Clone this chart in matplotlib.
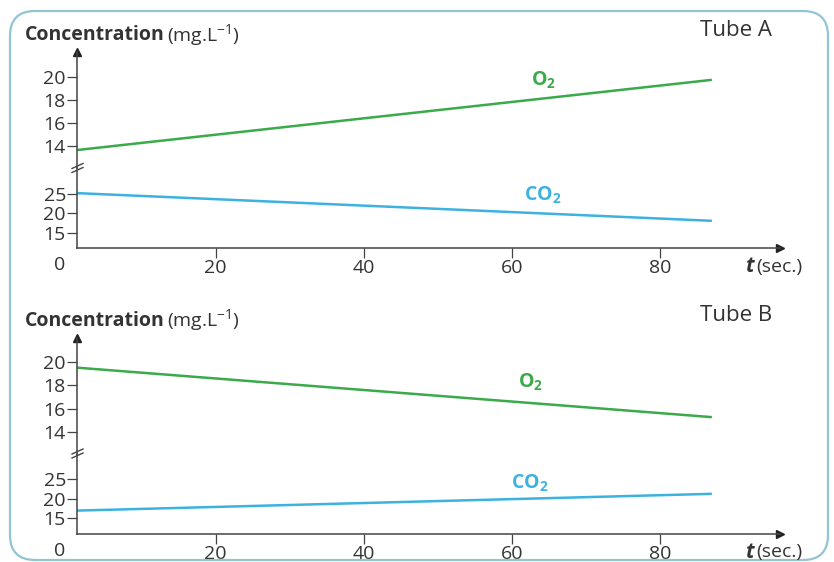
import matplotlib
matplotlib.use("Agg")
import matplotlib.pyplot as plt
from matplotlib.patches import FancyBboxPatch
from matplotlib.lines import Line2D

plt.rcParams['font.family'] = ['Open Sans', 'DejaVu Sans']

# data
t = [1.3, 87.0]
o2_a = [13.65, 19.75]
co2_a = [25.1, 18.0]
o2_b = [19.55, 15.25]
co2_b = [16.9, 21.2]
xticks = [20, 40, 60, 80]
o2_ticks = [14, 16, 18, 20]
co2_ticks = [15, 20, 25]

W, H = 834, 562
TXT = '#333333'
AX = '#444444'
GREEN = '#3aaa4a'
BLUE = '#3cb2df'

fig = plt.figure(figsize=(W / 100, H / 100), dpi=100)


def box(l, r, top, bot):
    return [l / W, 1 - bot / H, (r - l) / W, (bot - top) / H]


def ftext(x, y, s, **kw):
    fig.text(x / W, 1 - y / H, s, **kw)


def panel(dy, o2, co2, tube, o2_xy, co2_xy):
    up = fig.add_axes(box(77, 780, 52 + dy, 168 + dy))
    lo = fig.add_axes(box(77, 780, 168 + dy, 248 + dy))
    for ax in (up, lo):
        ax.patch.set_alpha(0)
        ax.set_xlim(1.3, 96.2)
        for s in ('top', 'right'):
            ax.spines[s].set_visible(False)
        ax.spines['left'].set_color(AX)
        ax.spines['left'].set_linewidth(1.1)
        ax.tick_params(axis='y', direction='out', length=7, width=0.9,
                       colors=AX, labelcolor=TXT, labelsize=14, pad=1)
    up.spines['bottom'].set_visible(False)
    up.set_xticks([])
    up.set_ylim(12.09, 22.17)
    up.set_yticks(o2_ticks)
    lo.set_ylim(11.03, 31.54)
    lo.set_yticks(co2_ticks)
    lo.spines['bottom'].set_color(AX)
    lo.spines['bottom'].set_linewidth(1.1)
    lo.set_xticks(xticks)
    lo.tick_params(axis='x', direction='out', length=7, width=0.9,
                   colors=AX, labelcolor=TXT, labelsize=14, pad=1)

    up.plot(t, o2, color=GREEN, lw=1.8, solid_capstyle='butt')
    lo.plot(t, co2, color=BLUE, lw=1.8, solid_capstyle='butt')

    # arrow heads
    up.plot([0], [1], marker='^', ms=6, color='#222222', transform=up.transAxes,
            clip_on=False)
    lo.plot([1], [0], marker='>', ms=6, color='#222222', transform=lo.transAxes,
            clip_on=False)

    # axis break mark
    for off in (-2, 2):
        y0 = 1 - (168 + dy + off + 2.5) / H
        y1 = 1 - (168 + dy + off - 2.5) / H
        fig.add_artist(Line2D([72 / W, 83 / W], [y0, y1], color=AX, lw=1))

    ftext(25, 35 + dy, 'Concentration', fontsize=14, fontweight='bold',
          color=TXT, va='center')
    ftext(167, 35 + dy, r'(mg.L$\mathregular{^{-1}}$)', fontsize=14,
          color=TXT, va='center')
    ftext(60, 265 + dy, '0', fontsize=14, color=TXT, ha='center', va='center')
    ftext(754, 267 + dy, 't', fontsize=15, fontweight='bold', style='italic',
          color=TXT, ha='right', va='center')
    ftext(756, 267 + dy, '(sec.)', fontsize=14, color=TXT, va='center')
    ftext(736, 30 + dy, tube, fontsize=16, color=TXT, ha='center', va='center')
    ftext(*o2_xy, r'O$\mathregular{_2}$', fontsize=14, color=GREEN,
          fontweight='bold', ha='center', va='center')
    ftext(*co2_xy, r'CO$\mathregular{_2}$', fontsize=14, color=BLUE,
          fontweight='bold', ha='center', va='center')


panel(0, o2_a, co2_a, 'Tube A', (543, 80), (543, 195))
panel(285.5, o2_b, co2_b, 'Tube B', (530, 382), (530, 483))

frame = FancyBboxPatch((0.1, 0.02), 8.18, 5.49,
                       boxstyle='round,pad=0,rounding_size=0.25',
                       transform=fig.dpi_scale_trans, fill=False,
                       edgecolor='#92c4d2', lw=1.6)
fig.add_artist(frame)

fig.savefig('out.png', dpi=100)
